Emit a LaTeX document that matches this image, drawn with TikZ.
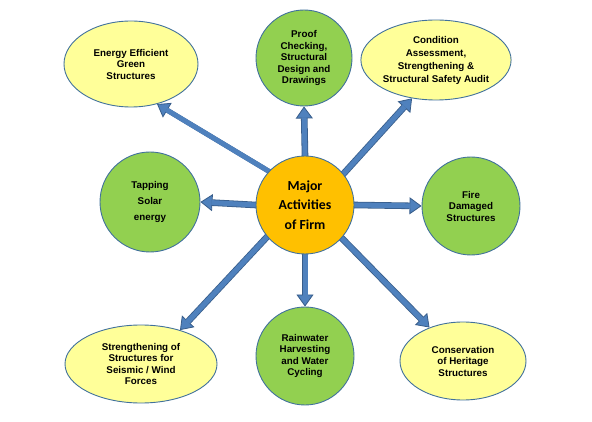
\documentclass[tikz,border=0pt]{standalone}
\usepackage{fontspec}
\setmainfont{Liberation Sans}
\newfontfamily\calibri{Carlito}
\usetikzlibrary{arrows.meta,shapes.geometric,backgrounds}

\definecolor{rimblue}{HTML}{41719C}
\definecolor{paleyellow}{HTML}{FFFF99}
\definecolor{leafgreen}{HTML}{92D050}
\definecolor{hubgold}{HTML}{FFC000}
\definecolor{arrowfill}{HTML}{4F81BD}
\definecolor{arrowline}{HTML}{385D8A}

\begin{document}
\begin{tikzpicture}[
    x=1pt, y=-1pt,
    topic/.style={
        draw=rimblue,
        line width=0.9pt,
        align=center,
        inner sep=0pt,
        font=\bfseries\fontsize{9.8}{11.5}\selectfont
    },
    oval/.style={
        topic,
        ellipse,
        fill=paleyellow
    },
    disc/.style={
        topic,
        circle,
        fill=leafgreen
    },
    blockarrow/.style={
        draw=arrowline,
        line width=6.6pt,
        shorten <=-3pt,
        -{Triangle[width=17pt,length=12pt,fill=arrowfill,line width=0.8pt]},
        postaction={draw=arrowfill, line width=5pt, -, shorten >=11pt}
    },
    thinarrow/.style={
        blockarrow,
        line width=5pt,
        postaction={draw=arrowfill, line width=3.4pt, -, shorten >=11pt}
    }
]
\useasboundingbox (0,0) rectangle (592,422);

% Hub
\node[topic, circle, fill=hubgold, minimum size=98pt,
      font=\calibri\bfseries\fontsize{13.8}{19.5}\selectfont]
    at (305,205) (hub) {Major\\Activities\\of Firm};

% Top row
\node[oval, minimum width=134pt, minimum height=86pt] at (131,64) (energy)
    {Energy Efficient\\Green\\Structures};
\node[disc, minimum size=96pt] at (304,58) (proof)
    {Proof\\Checking,\\Structural\\Design and\\Drawings};
\node[oval, minimum width=128pt, minimum height=80pt,
      font=\bfseries\fontsize{9.8}{13}\selectfont] at (436,60) (audit)
    {Condition\\Assessment,\\Strengthening \&\\Structural Safety Audit};

% Middle row
\node[disc, minimum size=100pt,
      font=\bfseries\fontsize{9.8}{16}\selectfont] at (150,202) (solar)
    {Tapping\\Solar\\energy};
\node[disc, minimum size=98pt] at (471,206) (fire)
    {Fire\\Damaged\\Structures};

% Bottom row
\node[oval, minimum width=152pt, minimum height=78pt] at (141,364) (seismic)
    {Strengthening of\\Structures for\\Seismic / Wind\\Forces};
\node[disc, minimum size=98pt] at (305,356) (rain)
    {Rainwater\\Harvesting\\and Water\\Cycling};
\node[oval, minimum width=126pt, minimum height=78pt] at (463,361) (heritage)
    {Conservation\\of Heritage\\Structures};

% Arrows out of the hub
\begin{scope}[on background layer]
\draw[thinarrow] (hub.137) -- (energy.-57);
\draw[blockarrow] (hub.north) -- (proof.south);
\draw[blockarrow] (hub.39) -- (audit.-122);
\draw[blockarrow] (hub.west) -- (solar.east);
\draw[blockarrow] (hub.east) -- (fire.west);
\draw[blockarrow] (hub.220) -- (seismic.41);
\draw[blockarrow] (hub.south) -- (rain.north);
\draw[blockarrow] (hub.-42) -- (heritage.135);
\end{scope}

\end{tikzpicture}
\end{document}
